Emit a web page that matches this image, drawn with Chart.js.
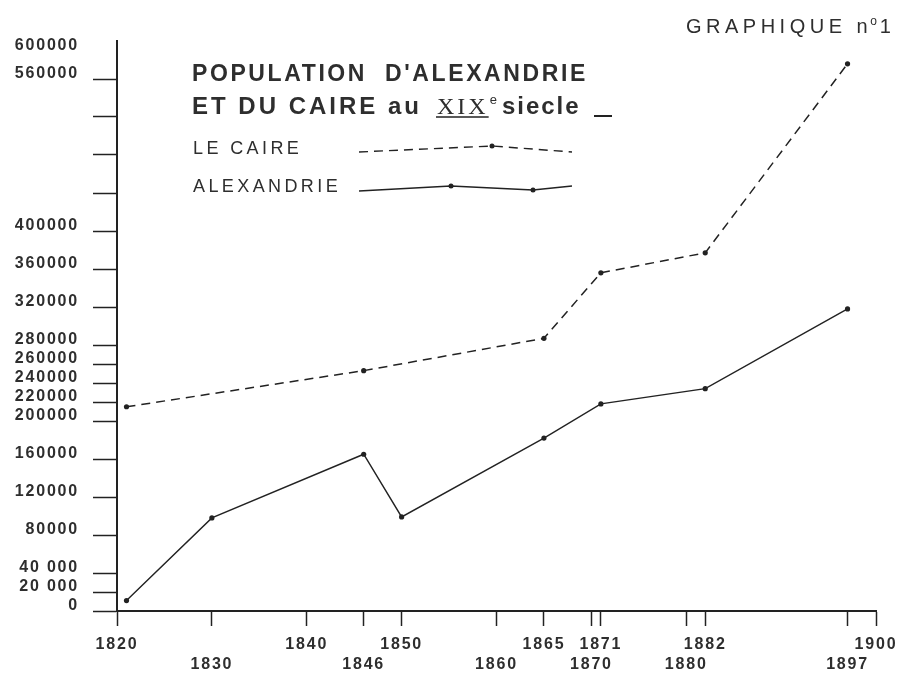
<!DOCTYPE html>
<html>
<head>
<meta charset="utf-8">
<style>
  html, body { margin: 0; padding: 0; background: #fff; }
  #wrap { width: 898px; height: 673px; }
</style>
<script src="https://cdn.jsdelivr.net/npm/chart.js@4/dist/chart.umd.min.js"></script>
</head>
<body>
<div id="wrap"><canvas id="pop" width="898" height="673"></canvas></div>
<script>
// populations read from the plate
const alexYears = [1821, 1830, 1846, 1850, 1865, 1871, 1882, 1897]
const alexandrie = [11000, 98000, 165000, 99000, 182000, 218000, 234000, 318000]
const caireYears = [1821, 1846, 1865, 1871, 1882, 1897]
const caire = [215000, 253000, 287000, 356000, 377000, 576000]

// x ticks, split on two rows like the original
const yearsRow1 = [1820, 1840, 1850, 1865, 1871, 1882, 1900]
const yearsRow2 = [1830, 1846, 1860, 1870, 1880, 1897]

const yTicks = [0, 20000, 40000, 80000, 120000, 160000, 200000, 220000, 240000, 260000,
  280000, 320000, 360000, 400000, 440000, 480000, 520000, 560000, 600000]
const yLabels = {
  0: "0", 20000: "20 000", 40000: "40 000", 80000: "80000", 120000: "120000",
  160000: "160000", 200000: "200000", 220000: "220000", 240000: "240000",
  260000: "260000", 280000: "280000", 320000: "320000", 360000: "360000",
  400000: "400000", 560000: "560000", 600000: "600000",
}

const ink = "#222222"
const textInk = "#2e2e2e"

const toPoints = (xs, ys) => xs.map((x, i) => ({ x: x, y: ys[i] }))

const spacing = {
  id: "spacing",
  beforeDraw(chart) {
    chart.ctx.letterSpacing = "1.8px"
  },
}

const heading = {
  id: "heading",
  afterDraw(chart) {
    const ctx = chart.ctx
    ctx.save()
    ctx.fillStyle = textInk
    ctx.strokeStyle = ink
    ctx.textBaseline = "alphabetic"
    ctx.textAlign = "left"

    // GRAPHIQUE no 1
    ctx.letterSpacing = "4.5px"
    ctx.font = '20px "Liberation Sans"'
    let x = 686
    ctx.fillText("GRAPHIQUE n", x, 33)
    x += ctx.measureText("GRAPHIQUE n").width - 2
    ctx.letterSpacing = "0px"
    ctx.font = '12px "Liberation Sans"'
    ctx.fillText("o", x, 25)
    x += ctx.measureText("o").width + 3
    ctx.font = '20px "Liberation Sans"'
    ctx.fillText("1", x, 33)

    // title
    ctx.letterSpacing = "2.6px"
    ctx.font = 'bold 23px "Liberation Sans"'
    ctx.fillText("POPULATION  D'ALEXANDRIE", 192, 81)
    ctx.letterSpacing = "3px"
    ctx.font = 'bold 24px "Liberation Sans"'
    ctx.fillText("ET DU CAIRE au", 192, 114)
    x = 437
    ctx.font = '24px "Liberation Serif"'
    const w = ctx.measureText("XIX").width
    ctx.fillText("XIX", x, 114)
    ctx.lineWidth = 1.3
    ctx.beginPath()
    ctx.moveTo(x - 1, 117)
    ctx.lineTo(x + w, 117)
    ctx.stroke()
    x += w + 1
    ctx.letterSpacing = "0px"
    ctx.font = '13px "Liberation Sans"'
    ctx.fillText("e", x, 104)
    x += ctx.measureText("e").width + 5
    ctx.letterSpacing = "2px"
    ctx.font = 'bold 24px "Liberation Sans"'
    ctx.fillText("siecle", x, 114)
    ctx.lineWidth = 2
    ctx.beginPath()
    ctx.moveTo(594, 116)
    ctx.lineTo(612, 116)
    ctx.stroke()

    // legend
    ctx.letterSpacing = "3.4px"
    ctx.font = '18px "Liberation Sans"'
    ctx.fillText("LE CAIRE", 193, 154)
    ctx.fillText("ALEXANDRIE", 193, 192)

    ctx.lineWidth = 1.4
    ctx.setLineDash([9, 6])
    ctx.beginPath()
    ctx.moveTo(359, 152)
    ctx.lineTo(492, 146)
    ctx.lineTo(572, 152)
    ctx.stroke()
    ctx.setLineDash([])
    ctx.beginPath()
    ctx.moveTo(359, 191)
    ctx.lineTo(451, 186)
    ctx.lineTo(533, 190)
    ctx.lineTo(572, 186)
    ctx.stroke()
    ctx.fillStyle = ink
    ;[[492, 146], [451, 186], [533, 190]].forEach(([px, py]) => {
      ctx.beginPath()
      ctx.arc(px, py, 2.5, 0, Math.PI * 2)
      ctx.fill()
    })
    ctx.restore()
  },
}

const tickFont = { family: '"Liberation Sans"', size: 16, weight: "bold", lineHeight: 1.25 }

new Chart(document.getElementById("pop"), {
  type: "line",
  data: {
    datasets: [
      {
        label: "LE CAIRE",
        data: toPoints(caireYears, caire),
        borderColor: ink,
        borderWidth: 1.5,
        borderDash: [9, 6],
        pointRadius: 2.6,
        pointBackgroundColor: ink,
        pointBorderWidth: 0,
        tension: 0,
      },
      {
        label: "ALEXANDRIE",
        data: toPoints(alexYears, alexandrie),
        borderColor: ink,
        borderWidth: 1.4,
        pointRadius: 2.6,
        pointBackgroundColor: ink,
        pointBorderWidth: 0,
        tension: 0,
      },
    ],
  },
  options: {
    responsive: false,
    animation: false,
    devicePixelRatio: 1,
    layout: { padding: { top: 41, right: 22, left: 0, bottom: 0 } },
    plugins: {
      legend: { display: false },
      tooltip: { enabled: false },
    },
    scales: {
      x: {
        type: "linear",
        min: 1820,
        max: 1900,
        afterBuildTicks: (scale) => {
          scale.ticks = [...yearsRow1, ...yearsRow2].sort((a, b) => a - b).map(v => ({ value: v }))
        },
        afterFit: (scale) => {
          scale.height = 62
          scale.paddingLeft = 0
          scale.paddingRight = 0
        },
        border: { color: ink, width: 2 },
        grid: { drawOnChartArea: false, tickLength: 15, tickColor: ink, tickWidth: 1.5 },
        ticks: {
          autoSkip: false,
          maxRotation: 0,
          padding: 9,
          color: textInk,
          font: tickFont,
          callback: (v) => yearsRow1.includes(v) ? [String(v), ""] : ["", String(v)],
        },
      },
      y: {
        type: "linear",
        min: 0,
        max: 600000,
        afterBuildTicks: (scale) => {
          scale.ticks = yTicks.map(v => ({ value: v }))
        },
        afterFit: (scale) => {
          scale.width = 117
          scale.paddingTop = 0
          scale.paddingBottom = 0
        },
        border: { color: ink, width: 2 },
        grid: {
          drawOnChartArea: false,
          tickLength: 24,
          tickWidth: 1.5,
          tickColor: (c) => c.tick && c.tick.value === 600000 ? "rgba(0,0,0,0)" : ink,
        },
        ticks: {
          autoSkip: false,
          padding: 14,
          labelOffset: -5,
          color: textInk,
          font: tickFont,
          callback: (v) => v === 600000 ? ["", yLabels[v]] : (yLabels[v] || ""),
        },
      },
    },
  },
  plugins: [spacing, heading],
})
</script>
</body>
</html>
